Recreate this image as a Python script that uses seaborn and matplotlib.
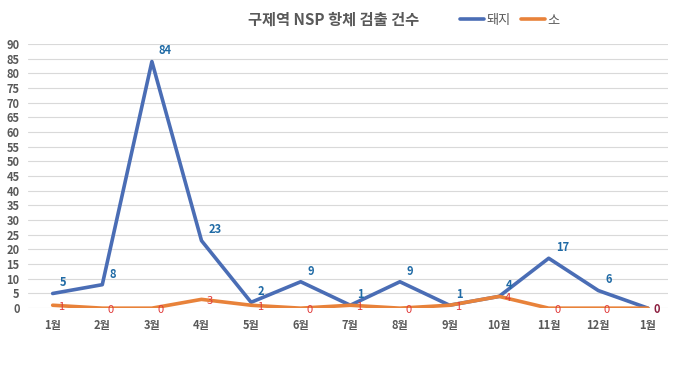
import pandas as pd
import matplotlib.pyplot as plt
import seaborn as sns

months = ['1월', '2월', '3월', '4월', '5월', '6월', '7월', '8월', '9월', '10월', '11월', '12월', '1월']
pig = [5, 8, 84, 23, 2, 9, 1, 9, 1, 4, 17, 6, 0]
cow = [1, 0, 0, 3, 1, 0, 1, 0, 1, 4, 0, 0, 0]
y_ticks = list(range(0, 95, 5))

sns.set_style('white')
plt.rcParams['font.family'] = ['Noto Sans CJK KR', 'DejaVu Sans']

df = pd.DataFrame({
    'idx': list(range(len(months))) * 2,
    'value': pig + cow,
    'kind': ['돼지'] * len(pig) + ['소'] * len(cow),
})
palette = {'돼지': '#4A6DB5', '소': '#E8823A'}

fig = plt.figure(figsize=(6.8, 3.66), dpi=100)
ax = fig.add_axes([0.041, 0.158, 0.941, 0.722])

sns.lineplot(data=df, x='idx', y='value', hue='kind', palette=palette,
             linewidth=2.6, ax=ax, legend=False)

last = len(pig) - 1
for i, v in enumerate(pig):
    if i == last and v == cow[i]:
        continue  # shared label with cow at the final point
    ax.annotate(str(v), (i, v), xytext=(5, 3), textcoords='offset points',
                color='#1F6AA5', fontsize=8, fontweight='bold', va='bottom')
for i, v in enumerate(cow):
    c = '#8B1E3F' if i == last else '#E03A3A'
    ax.annotate(str(v), (i, v), xytext=(4, -1), textcoords='offset points',
                color=c, fontsize=8, va='center',
                fontweight='bold' if i == last else 'normal')

ax.set_xlim(-0.5, 12.4)
ax.set_ylim(0, 90)
ax.set_yticks(y_ticks)
ax.set_xticks(range(len(months)))
ax.set_xticklabels(months)
ax.grid(axis='y', color='#D9D9D9', linewidth=0.8)
ax.set_axisbelow(True)
for s in ax.spines.values():
    s.set_visible(False)
ax.tick_params(axis='both', length=0, labelsize=8, labelcolor='#595959')
ax.tick_params(axis='x', pad=8)
ax.tick_params(axis='y', pad=6)
for lab in ax.get_xticklabels() + ax.get_yticklabels():
    lab.set_fontweight('bold')
ax.set_xlabel('')
ax.set_ylabel('')

fig.text(0.49, 0.945, '구제역 NSP 항체 검출 건수', ha='center', va='center',
         fontsize=11, fontweight='bold', color='#595959')
handles = [plt.Line2D([], [], color=palette[k], linewidth=2.6) for k in ['돼지', '소']]
fig.legend(handles, ['돼지', '소'], loc='center', bbox_to_anchor=(0.75, 0.945),
           ncol=2, frameon=False, fontsize=9.5, handlelength=1.8, handletextpad=0.2,
           columnspacing=0.8, labelcolor='#595959')

fig.savefig('out.png', dpi=100)
